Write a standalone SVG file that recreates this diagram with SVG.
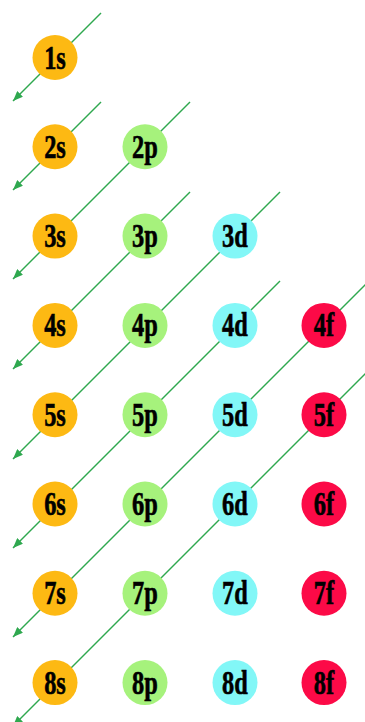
<svg xmlns="http://www.w3.org/2000/svg" width="365" height="722" viewBox="0 0 365 722">
<style>
.bg{fill:#ffffff}
.ln{stroke:#2fa84f;stroke-width:1.4;fill:none;marker-end:url(#ah)}
.s{fill:#fdb913}
.p{fill:#a6f27c}
.d{fill:#82f7f7}
.f{fill:#fc0a47}
text{font-family:"Liberation Serif","Times New Roman",serif;font-weight:bold;font-size:33px;fill:#000;stroke:#000;stroke-width:0.6;text-anchor:middle}
</style>
<defs>
<marker id="ah" viewBox="0 0 10 8" refX="10" refY="4" markerWidth="10" markerHeight="8" markerUnits="userSpaceOnUse" orient="auto">
<path d="M0,0 L10,4 L0,8 z" fill="#2fa84f"/>
</marker>
<circle id="c" r="22.5"/>
</defs>
<rect class="bg" width="365" height="722"/>
<g id="connectors">
<line class="ln" x1="101" y1="13" x2="13" y2="101"/>
<line class="ln" x1="101" y1="102" x2="13" y2="190"/>
<line class="ln" x1="190" y1="102" x2="13" y2="279"/>
<line class="ln" x1="190" y1="192" x2="13" y2="369"/>
<line class="ln" x1="280" y1="192" x2="13" y2="459"/>
<line class="ln" x1="280" y1="281" x2="13" y2="548"/>
<line class="ln" x1="369" y1="281" x2="13" y2="637"/>
<line class="ln" x1="369" y1="370" x2="13" y2="726"/>
</g>
<g id="n1s" transform="translate(55,57.5)"><use href="#c" class="s"/><text y="11" transform="scale(0.74,1)">1s</text></g>
<g id="n2s" transform="translate(55,146.8)"><use href="#c" class="s"/><text y="11" transform="scale(0.74,1)">2s</text></g>
<g id="n2p" transform="translate(145,146.8)"><use href="#c" class="p"/><text y="11" transform="scale(0.74,1)">2p</text></g>
<g id="n3s" transform="translate(55,236.1)"><use href="#c" class="s"/><text y="11" transform="scale(0.74,1)">3s</text></g>
<g id="n3p" transform="translate(145,236.1)"><use href="#c" class="p"/><text y="11" transform="scale(0.74,1)">3p</text></g>
<g id="n3d" transform="translate(235,236.1)"><use href="#c" class="d"/><text y="11" transform="scale(0.74,1)">3d</text></g>
<g id="n4s" transform="translate(55,325.4)"><use href="#c" class="s"/><text y="11" transform="scale(0.74,1)">4s</text></g>
<g id="n4p" transform="translate(145,325.4)"><use href="#c" class="p"/><text y="11" transform="scale(0.74,1)">4p</text></g>
<g id="n4d" transform="translate(235,325.4)"><use href="#c" class="d"/><text y="11" transform="scale(0.74,1)">4d</text></g>
<g id="n4f" transform="translate(324,325.4)"><use href="#c" class="f"/><text y="11" transform="scale(0.74,1)">4f</text></g>
<g id="n5s" transform="translate(55,414.7)"><use href="#c" class="s"/><text y="11" transform="scale(0.74,1)">5s</text></g>
<g id="n5p" transform="translate(145,414.7)"><use href="#c" class="p"/><text y="11" transform="scale(0.74,1)">5p</text></g>
<g id="n5d" transform="translate(235,414.7)"><use href="#c" class="d"/><text y="11" transform="scale(0.74,1)">5d</text></g>
<g id="n5f" transform="translate(324,414.7)"><use href="#c" class="f"/><text y="11" transform="scale(0.74,1)">5f</text></g>
<g id="n6s" transform="translate(55,504)"><use href="#c" class="s"/><text y="11" transform="scale(0.74,1)">6s</text></g>
<g id="n6p" transform="translate(145,504)"><use href="#c" class="p"/><text y="11" transform="scale(0.74,1)">6p</text></g>
<g id="n6d" transform="translate(235,504)"><use href="#c" class="d"/><text y="11" transform="scale(0.74,1)">6d</text></g>
<g id="n6f" transform="translate(324,504)"><use href="#c" class="f"/><text y="11" transform="scale(0.74,1)">6f</text></g>
<g id="n7s" transform="translate(55,593.3)"><use href="#c" class="s"/><text y="11" transform="scale(0.74,1)">7s</text></g>
<g id="n7p" transform="translate(145,593.3)"><use href="#c" class="p"/><text y="11" transform="scale(0.74,1)">7p</text></g>
<g id="n7d" transform="translate(235,593.3)"><use href="#c" class="d"/><text y="11" transform="scale(0.74,1)">7d</text></g>
<g id="n7f" transform="translate(324,593.3)"><use href="#c" class="f"/><text y="11" transform="scale(0.74,1)">7f</text></g>
<g id="n8s" transform="translate(55,682.6)"><use href="#c" class="s"/><text y="11" transform="scale(0.74,1)">8s</text></g>
<g id="n8p" transform="translate(145,682.6)"><use href="#c" class="p"/><text y="11" transform="scale(0.74,1)">8p</text></g>
<g id="n8d" transform="translate(235,682.6)"><use href="#c" class="d"/><text y="11" transform="scale(0.74,1)">8d</text></g>
<g id="n8f" transform="translate(324,682.6)"><use href="#c" class="f"/><text y="11" transform="scale(0.74,1)">8f</text></g>
</svg>
